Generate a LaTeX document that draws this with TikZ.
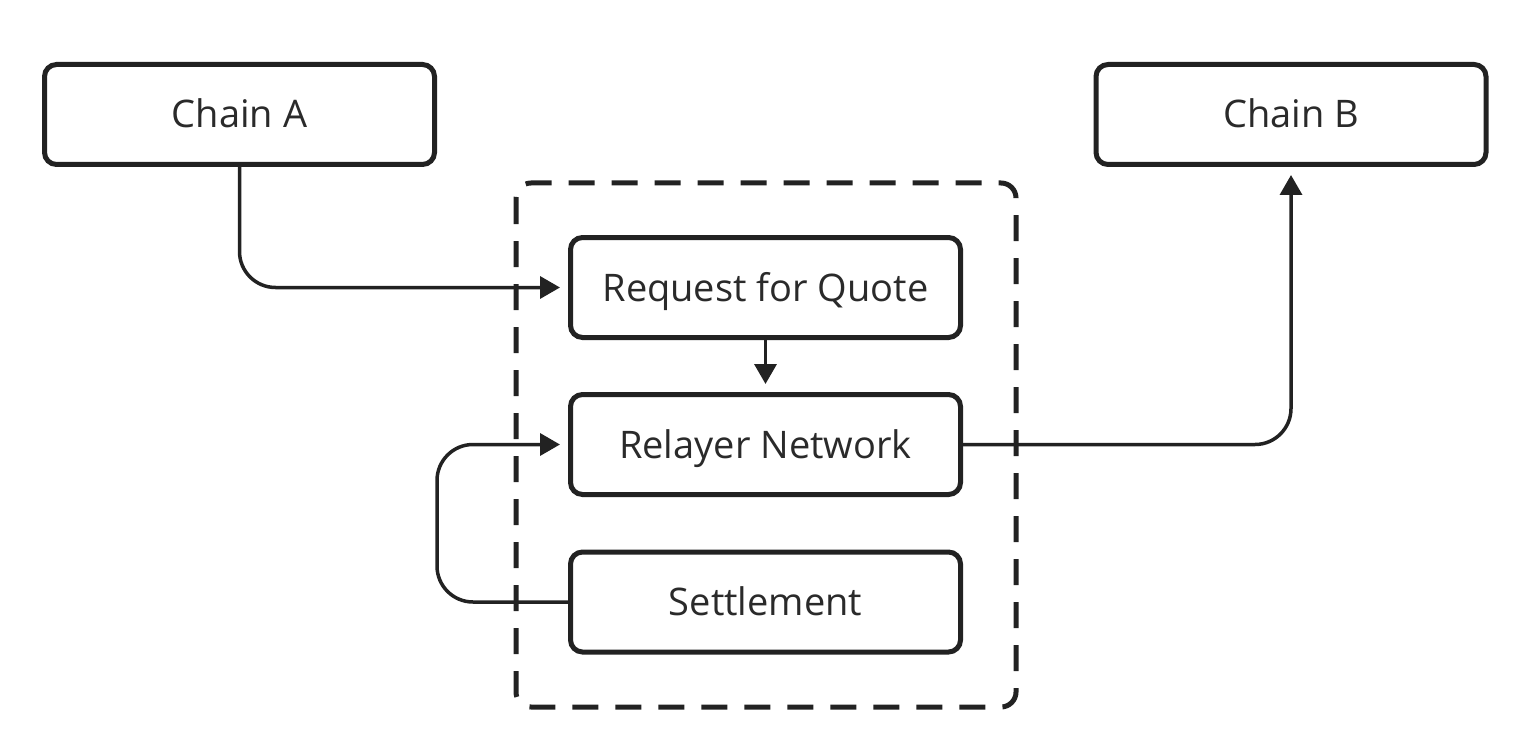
\documentclass[tikz,border=0pt]{standalone}
\usepackage{fontspec}
\setmainfont{Open Sans}
\usetikzlibrary{arrows.meta}
\definecolor{ink}{HTML}{222222}
\definecolor{txt}{HTML}{2A2A2A}
\begin{document}
\begin{tikzpicture}[x=1pt,y=-1pt,
  blk/.style={draw=ink, line width=5pt, rounded corners=12pt, minimum width=390pt, minimum height=100pt, inner sep=0pt, font=\fontsize{38}{44}\selectfont, text=txt, text height=27pt, text depth=0pt, fill=white},
  conn/.style={draw=ink, line width=3.5pt, rounded corners=36pt, -{Triangle[length=20pt,width=22pt]}, shorten >=8pt}]
\useasboundingbox (0,0) rectangle (1536,746);
\draw[ink, line width=5pt, dash pattern=on 26pt off 17pt, rounded corners=15pt] (516,183) rectangle (1016,707);
\node[blk] (a) at (239.5,114.5) {Chain A};
\node[blk] (b) at (1291,114.5) {Chain B};
\node[blk] (rfq) at (765.5,287.5) {Request for Quote};
\node[blk] (rel) at (765.5,444.5) {Relayer Network};
\node[blk] (set) at (765.5,602) {Settlement};
\coordinate (c1) at (a.south |- rfq.west);
\coordinate (c2) at (437,0);
\coordinate (c3) at (b.south |- rel.east);
\draw[conn] (a.south) -- (c1) -- (rfq.west);
\draw[conn] (rfq.south) -- (rel.north);
\draw[conn] (set.west) -- (c2 |- set.west) -- (c2 |- rel.west) -- (rel.west);
\draw[conn] (rel.east) -- (c3) -- (b.south);
\end{tikzpicture}
\end{document}
